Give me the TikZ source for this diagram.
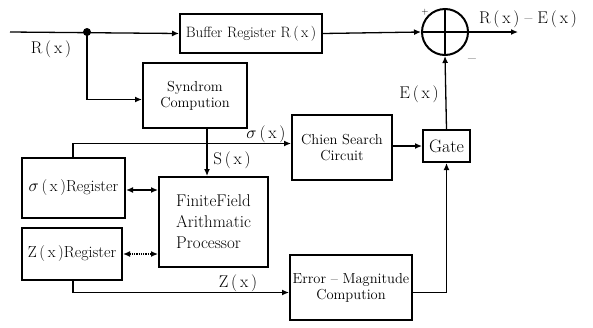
\documentclass[tikz,border=0pt]{standalone}
\usepackage{amsmath,amssymb}
\usepackage{fontspec}
\usetikzlibrary{positioning,calc,arrows.meta}
\newcommand{\fx}[1]{#1\,(\,x\,)}
\tikzset{
  blk/.style={draw,line width=2pt,align=center,inner sep=1pt},
  wire/.style={line width=1.3pt},
  arr/.style={wire,-{Latex[length=7pt,width=6pt]}},
  lbl/.style={inner sep=0pt,font=\fontsize{17}{19}\selectfont}
}

\begin{document}
\begin{tikzpicture}[x=1pt,y=-1pt,font=\fontsize{14.5}{16}\selectfont]
  \useasboundingbox (0,0) rectangle (593,327);
  % blocks
  \node[blk,minimum width=142,minimum height=39,font=\fontsize{15}{17}\selectfont] (buf) at (251,33.5) {Buffer Register \fx{R}};
  \node[draw,line width=2pt,circle,minimum size=46] (sum) at (445,32) {};
  \node[blk,minimum width=104,minimum height=65] (syn) at (195,95.5) {Syndrom\\Compution};
  \node[blk,minimum width=100,minimum height=65] (chien) at (342,147.5) {Chien Search\\Circuit};
  \node[blk,minimum width=47,minimum height=32,font=\fontsize{18}{20}\selectfont] (gate) at (446.5,146) {Gate};
  \node[blk,minimum width=103,minimum height=60,font=\fontsize{16}{18}\selectfont] (sreg) at (73.5,188) {\fx{$\sigma$}Register};
  \node[blk,minimum width=100,minimum height=52,font=\fontsize{16}{18}\selectfont] (zreg) at (72,254) {\fx{Z}Register};
  \node[blk,minimum width=109,minimum height=90,align=left,font=\fontsize{17}{21}\selectfont] (ff) at (213.5,222) {FiniteField\\Arithmatic\\Processor};
  \node[blk,minimum width=122,minimum height=65] (err) at (351,287.5) {Error -- Magnitude\\Compution};
  \coordinate (in0) at (10,32);
  \coordinate (split) at (87,32);
  \coordinate (out) at (518,32);

  % summing junction cross
  \draw[wire] (sum.west) -- (sum.east);
  \draw[wire] (sum.north) -- (sum.south);
  \node[lbl,font=\small] (plus) at (425,12) {+};
  \node[lbl] (minus) at (472,61) {--};

  % connectors
  \draw[arr] (in0) -- (buf.west);
  \fill (split) circle (4);
  \draw[arr] (split) |- ([yshift=-4pt]syn.west);
  \draw[arr] (buf.east) -- (sum.west);
  \draw[arr] (sum.east) -- (out);
  \draw[arr] ([xshift=12pt]syn.south) -- ([xshift=12pt]syn.south |- ff.north);
  \draw[arr] ([xshift=-0.5pt]sreg.north) |- ([yshift=4pt]chien.west);
  \draw[arr] (chien.east |- gate.west) -- (gate.west);
  \draw[arr] (gate.north) -- (sum.south);
  \draw[wire,{Latex[length=7pt,width=6pt]}-{Latex[length=7pt,width=6pt]}] ([yshift=-2pt]sreg.east) -- ([yshift=-2pt]sreg.east -| ff.west);
  \draw[wire,densely dotted,{Latex[length=7pt,width=6pt]}-{Latex[length=7pt,width=6pt]}] (zreg.east) -- (zreg.east -| ff.west);
  \draw[arr] ([xshift=1pt]zreg.south) |- ([yshift=-5pt]err.west);
  \draw[arr] ([yshift=-5pt]err.east) -| (gate.south);

  % signal labels
  \node[lbl] (lr) at (51,49) {\fx{R}};
  \node[lbl] (ls) at (232,160) {\fx{S}};
  \node[lbl] (lsig) at (266,134) {\fx{$\sigma$}};
  \node[lbl] (lz) at (238,283) {\fx{Z}};
  \node[lbl] (le) at (419,94) {\fx{E}};
  \node[lbl] (lout) at (528,19) {\fx{R} -- \fx{E}};
\end{tikzpicture}
\end{document}
